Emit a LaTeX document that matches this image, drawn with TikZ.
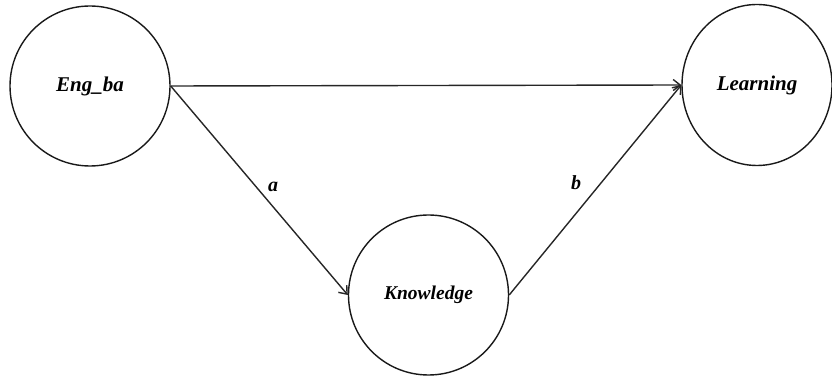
\documentclass[tikz,border=0pt]{standalone}
\usepackage{fontspec}
\setmainfont{Liberation Serif}
\usetikzlibrary{arrows.meta,shapes.geometric}
\begin{document}
\begin{tikzpicture}[x=1pt,y=1pt,
  var/.style={draw=black!90, line width=1.4pt, inner sep=0pt, font=\bfseries\itshape\fontsize{21}{24}\selectfont},
  conn/.style={draw=black!85, line width=1.4pt, -{Straight Barb[length=7pt,width=11pt,line width=1.4pt]}},
  lab/.style={font=\bfseries\itshape\fontsize{20}{23}\selectfont}]
\useasboundingbox (0,0) rectangle (832,377);
\node[var, circle, minimum size=160pt] (E) at (90,291) {Eng\_ba};
\node[var, ellipse, minimum width=150pt, minimum height=161pt] (L) at (757,292) {Learning};
\node[var, circle, minimum size=160pt, font=\bfseries\itshape\fontsize{19.5}{22}\selectfont] (K) at (428.5,82) {Knowledge};
\draw[conn] (E.east) -- (L.west);
\draw[conn] (E.east) -- (K.west);
\draw[conn] (K.east) -- (L.west);
\node[lab] (la) at (273,190) {a};
\node[lab] (lb) at (576,194) {b};
\end{tikzpicture}
\end{document}
